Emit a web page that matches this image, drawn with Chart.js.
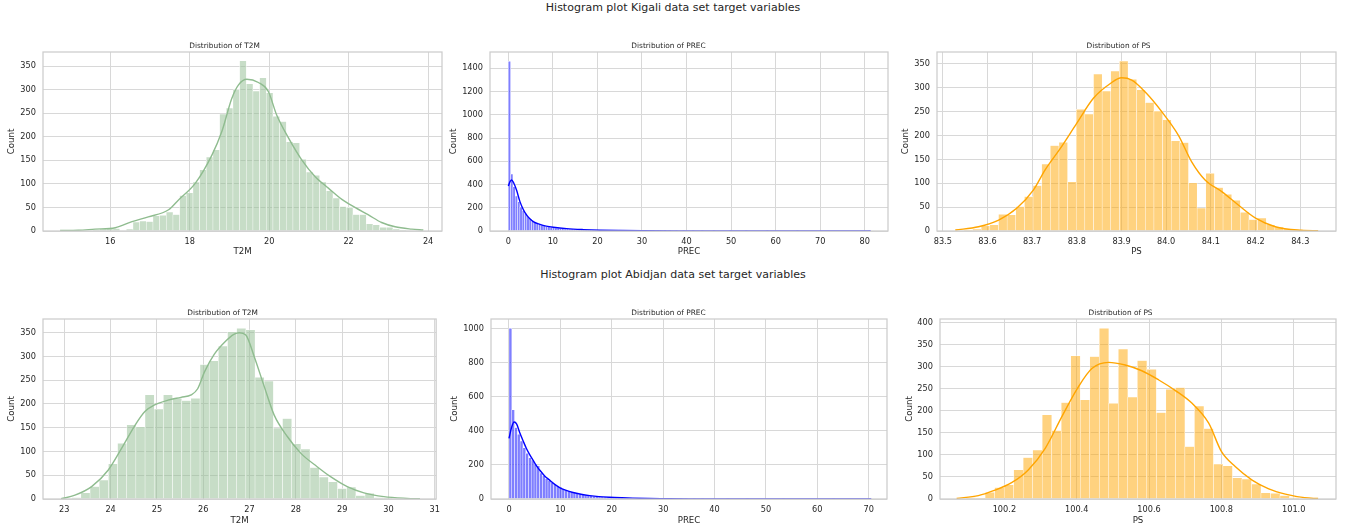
<!DOCTYPE html>
<html>
<head>
<meta charset="utf-8">
<title>Histogram plots - Kigali / Abidjan</title>
<script src="https://cdn.jsdelivr.net/npm/chart.js@4.4.1/dist/chart.umd.min.js"></script>
<style>
  html, body { margin: 0; padding: 0; background: #ffffff; }
  #fig { position: relative; width: 1346px; height: 528px; overflow: hidden; background: #ffffff;
         font-family: 'DejaVu Sans', sans-serif; color: #262626; }
  .suptitle { position: absolute; left: 0; width: 1346px; text-align: center; font-size: 11px; line-height: 14px; }
  canvas { position: absolute; }
</style>
</head>
<body>
<div id="fig">
  <div class="suptitle" style="top:1px">Histogram plot Kigali data set target variables</div>
  <div class="suptitle" style="top:268px">Histogram plot Abidjan data set target variables</div>
  <canvas id="kglT2M"></canvas>
  <canvas id="kglPREC"></canvas>
  <canvas id="kglPS"></canvas>
  <canvas id="abjT2M"></canvas>
  <canvas id="abjPREC"></canvas>
  <canvas id="abjPS"></canvas>
</div>
<script>
// ---------------- Kigali ----------------
// T2M histogram (bin start / width, counts per bin)
const kglT2MBinStart = 14.73;
const kglT2MBinWidth = 0.1677;
const kglT2MCounts = [1, 0, 1, 1, 1, 2, 4, 5, 5, 1, 4, 19, 21, 20, 32, 33, 40, 35, 75, 81,
  104, 130, 157, 172, 248, 261, 300, 361, 312, 297, 325, 293, 243, 232, 189, 187, 152, 125, 118, 104,
  85, 70, 52, 50, 35, 35, 15, 13, 8, 8, 4, 2, 1, 1, 1];
const kglT2MKdeX = [14.74, 15.2, 15.62, 16.13, 16.55, 16.96, 17.47, 17.72, 18.14, 18.56, 18.81, 19.06, 19.23,
  19.44, 19.73, 19.98, 20.19, 20.49, 20.82, 21.16, 21.49, 21.83, 22.16, 22.5, 22.83, 23.17, 23.59, 23.88];
const kglT2MKdeY = [1, 1.5, 4, 7, 20, 30, 45, 66, 101, 161, 211, 281, 310,
  322, 315, 296, 246, 197, 151, 115, 91, 67, 50, 34, 18, 9, 4, 2];
const kglT2MTicksX = [16, 18, 20, 22, 24];
const kglT2MTicksY = [0, 50, 100, 150, 200, 250, 300, 350];

// PREC histogram
const kglPRECBinStart = 0;
const kglPRECBinWidth = 0.5211;
const kglPRECCounts = [
  1460, 490, 380, 300, 250, 205, 175, 150, 125, 105,
  90, 78, 66, 57, 50, 44, 39, 35, 31, 28,
  25, 23, 21, 19, 17, 16, 15, 14, 13, 12,
  11, 10, 9, 8, 8, 7, 6, 6, 5, 5,
  4, 4, 4, 3, 3, 3, 3, 2, 2, 2,
  2, 2, 2, 1, 1, 1, 1, 1, 1, 1,
  1, 1, 1, 0, 1, 1, 0, 1, 0, 1,
  0, 0, 1, 0, 0, 1, 0, 0, 0, 1,
  0, 0, 0, 1, 0, 0, 0, 0, 1, 0,
  0, 0, 0, 0, 0, 1, 0, 0, 0, 0,
  0, 0, 1, 0, 0, 0, 0, 0, 0, 0,
  0, 1, 0, 0, 0, 0, 0, 0, 0, 0,
  0, 0, 0, 0, 1, 0, 0, 0, 0, 0,
  0, 0, 0, 0, 0, 0, 0, 0, 0, 0,
  0, 0, 0, 0, 0, 0, 0, 0, 0, 0,
  0, 0, 0, 0, 0, 1];
const kglPRECKdeX = [0, 0.4, 0.75, 1.2, 1.87, 2.6, 3.37, 4.1, 4.86, 5.6, 7.1, 8.5, 10.1, 13.1,
  16.8, 20.6, 25, 30, 40, 50, 60, 70, 81.3];
const kglPRECKdeY = [387, 425, 439, 415, 350, 255, 185, 138, 105, 80, 57, 42, 32, 20,
  12, 7, 4, 2, 1, 0.5, 0.3, 0.2, 0.1];
const kglPRECTicksX = [0, 10, 20, 30, 40, 50, 60, 70, 80];
const kglPRECTicksY = [0, 200, 400, 600, 800, 1000, 1200, 1400];

// PS histogram
const kglPSBinStart = 83.528;
const kglPSBinWidth = 0.01933;
const kglPSCounts = [1, 2, 4, 11, 13, 35, 34, 51, 72, 95, 140, 179, 186, 103, 255, 245, 329, 293, 335, 356,
  318, 296, 269, 251, 233, 189, 185, 101, 48, 121, 91, 77, 64, 39, 24, 27, 13, 8, 4, 2, 1, 1];
const kglPSKdeX = [83.528, 83.58, 83.625, 83.666, 83.703, 83.729, 83.763, 83.8, 83.837, 83.875, 83.9, 83.923,
  83.953, 83.99, 84.027, 84.057, 84.087, 84.125, 84.162, 84.2, 84.244, 84.303, 84.34];
const kglPSKdeY = [2, 9, 23, 48, 86, 128, 173, 226, 278, 309, 321, 316,
  291, 250, 201, 145, 107, 82, 54, 27, 9, 1.5, 0.5];
const kglPSTicksX = [83.5, 83.6, 83.7, 83.8, 83.9, 84.0, 84.1, 84.2, 84.3];
const kglPSTicksY = [0, 50, 100, 150, 200, 250, 300, 350];

// ---------------- Abidjan ----------------
const abjT2MBinStart = 22.963;
const abjT2MBinWidth = 0.1979;
const abjT2MCounts = [1, 3, 13, 26, 40, 74, 117, 156, 152, 219, 189, 219, 212, 207, 212, 283, 291, 322, 352, 359,
  356, 256, 248, 149, 169, 116, 105, 66, 46, 36, 22, 25, 7, 12, 3, 2, 1, 1, 1];
const abjT2MKdeX = [22.93, 23.23, 23.59, 23.95, 24.24, 24.52, 24.74, 24.95, 25.24, 25.52, 25.74, 25.88, 26.03,
  26.24, 26.45, 26.67, 26.78, 26.92, 27.1, 27.32, 27.53, 27.82, 28.11, 28.46, 28.75, 29.11, 29.47, 29.9, 30.4, 30.68];
const abjT2MKdeY = [0.5, 8, 26, 61, 107, 154, 184, 198, 208, 214, 219, 232, 268,
  305, 329, 347, 350, 345, 300, 236, 177, 131, 96, 68, 47, 26, 13, 5, 1.4, 0.5];
const abjT2MTicksX = [23, 24, 25, 26, 27, 28, 29, 30, 31];
const abjT2MTicksY = [0, 50, 100, 150, 200, 250, 300, 350];

const abjPRECBinStart = 0;
const abjPRECBinWidth = 0.5423;
const abjPRECCounts = [
  1002, 523, 420, 380, 340, 300, 268, 242, 228, 205,
  195, 152, 136, 120, 108, 95, 85, 76, 68, 60,
  53, 47, 42, 37, 33, 29, 25, 22, 20, 18,
  16, 14, 12, 11, 10, 9, 8, 7, 6, 5,
  5, 4, 4, 3, 3, 3, 2, 2, 2, 2,
  1, 1, 1, 1, 1, 1, 1, 0, 1, 1,
  0, 1, 0, 1, 0, 0, 1, 0, 0, 1,
  0, 0, 0, 1, 0, 0, 0, 0, 1, 0,
  0, 0, 0, 0, 0, 1, 0, 0, 0, 0,
  0, 0, 0, 0, 0, 0, 0, 0, 1, 0,
  0, 0, 0, 0, 0, 0, 0, 0, 0, 0,
  0, 0, 0, 0, 0, 0, 1, 0, 0, 0,
  0, 0, 0, 0, 0, 0, 0, 0, 0, 1];
const abjPRECKdeX = [0, 0.5, 1.0, 1.5, 2.08, 2.7, 3.37, 4.0, 4.67, 5.3, 5.97, 6.9, 7.9, 8.9, 9.86, 11,
  12.46, 14, 15.7, 17.5, 19.6, 22, 24.1, 27, 30.6, 35, 40, 50, 60, 70.5];
const abjPRECKdeY = [356, 420, 452, 440, 390, 345, 298, 262, 229, 197, 170, 137, 111, 86, 67, 52,
  38, 28, 20, 14, 10, 7, 5, 3, 2, 1, 0.5, 0.3, 0.2, 0.1];
const abjPRECTicksX = [0, 10, 20, 30, 40, 50, 60, 70];
const abjPRECTicksY = [0, 200, 400, 600, 800, 1000];

const abjPSBinStart = 100.068;
const abjPSBinWidth = 0.0263;
const abjPSCounts = [1, 3, 2, 15, 26, 32, 66, 94, 111, 191, 155, 219, 325, 225, 323, 387, 217, 340, 231, 314,
  294, 196, 249, 253, 119, 211, 160, 79, 75, 48, 45, 34, 14, 13, 8, 3, 1, 1];
const abjPSKdeX = [100.068, 100.128, 100.174, 100.22, 100.266, 100.313, 100.359, 100.405, 100.442, 100.488,
  100.534, 100.58, 100.627, 100.673, 100.719, 100.765, 100.8, 100.839, 100.885, 100.931, 100.977, 101.03, 101.0675];
const abjPSKdeY = [1.5, 7.6, 20, 37, 66, 115, 187, 255, 296, 310,
  304, 291, 270, 246, 217, 172, 108, 73, 43, 23, 11, 3, 1];
const abjPSTicksX = [100.2, 100.4, 100.6, 100.8, 101.0];
const abjPSTicksY = [0, 50, 100, 150, 200, 250, 300, 350, 400];

// ---------------- styling / layout ----------------
const FONT = 'DejaVu Sans';
const TEXT = '#262626';
const GRID = '#d8d8d8';
const GREEN = { line: '#8fbc8f', fill: 'rgba(143,188,143,0.5)' };
const BLUE = { line: '#0000ff', fill: 'rgba(0,0,255,0.5)' };
const ORANGE = { line: '#ffa500', fill: 'rgba(255,165,0,0.5)' };
const TITLE_BLOCK = 16;   // px from canvas top to plot top
const PAD_RIGHT = 8;

Chart.defaults.font.family = FONT;
Chart.defaults.color = TEXT;

// seaborn draws the spines on top of the bars
const frameBorder = {
  id: 'frameBorder',
  afterDatasetsDraw(chart) {
    const { ctx, chartArea: a } = chart;
    ctx.save();
    ctx.strokeStyle = '#cccccc';
    ctx.lineWidth = 1.25;
    ctx.strokeRect(a.left, a.top, a.right - a.left, a.bottom - a.top);
    ctx.restore();
  }
};

const fmtInt = v => String(v);
const fmt1 = v => v.toFixed(1);

const panels = [
  { id: 'kglT2M', title: 'Distribution of T2M', xLabel: 'T2M', colors: GREEN,
    binStart: kglT2MBinStart, binWidth: kglT2MBinWidth, counts: kglT2MCounts, kdeX: kglT2MKdeX, kdeY: kglT2MKdeY,
    xTicks: kglT2MTicksX, yTicks: kglT2MTicksY, xFmt: fmtInt,
    xMin: 14.31, xMax: 24.35, yMax: 379.7,
    plot: { left: 43, right: 442, top: 52, bottom: 231 }, canvasLeft: 7, canvasBottom: 258 },
  { id: 'kglPREC', title: 'Distribution of PREC', xLabel: 'PREC', colors: BLUE,
    binStart: kglPRECBinStart, binWidth: kglPRECBinWidth, counts: kglPRECCounts, kdeX: kglPRECKdeX, kdeY: kglPRECKdeY,
    xTicks: kglPRECTicksX, yTicks: kglPRECTicksY, xFmt: fmtInt,
    xMin: -4.1, xMax: 85.2, yMax: 1540,
    plot: { left: 490, right: 888, top: 52, bottom: 231 }, canvasLeft: 449, canvasBottom: 258 },
  { id: 'kglPS', title: 'Distribution of PS', xLabel: 'PS', colors: ORANGE,
    binStart: kglPSBinStart, binWidth: kglPSBinWidth, counts: kglPSCounts, kdeX: kglPSKdeX, kdeY: kglPSKdeY,
    xTicks: kglPSTicksX, yTicks: kglPSTicksY, xFmt: fmt1,
    xMin: 83.487, xMax: 84.38, yMax: 375,
    plot: { left: 937, right: 1336, top: 52, bottom: 231 }, canvasLeft: 901, canvasBottom: 258 },
  { id: 'abjT2M', title: 'Distribution of T2M', xLabel: 'T2M', colors: GREEN,
    binStart: abjT2MBinStart, binWidth: abjT2MBinWidth, counts: abjT2MCounts, kdeX: abjT2MKdeX, kdeY: abjT2MKdeY,
    xTicks: abjT2MTicksX, yTicks: abjT2MTicksY, xFmt: fmtInt,
    xMin: 22.54, xMax: 31.03, yMax: 378.8,
    plot: { left: 43, right: 438, top: 319, bottom: 499 }, canvasLeft: 7, canvasBottom: 527 },
  { id: 'abjPREC', title: 'Distribution of PREC', xLabel: 'PREC', colors: BLUE,
    binStart: abjPRECBinStart, binWidth: abjPRECBinWidth, counts: abjPRECCounts, kdeX: abjPRECKdeX, kdeY: abjPRECKdeY,
    xTicks: abjPRECTicksX, yTicks: abjPRECTicksY, xFmt: fmtInt,
    xMin: -3.5, xMax: 73.56, yMax: 1057,
    plot: { left: 491, right: 887, top: 319, bottom: 499 }, canvasLeft: 450, canvasBottom: 527 },
  { id: 'abjPS', title: 'Distribution of PS', xLabel: 'PS', colors: ORANGE,
    binStart: abjPSBinStart, binWidth: abjPSBinWidth, counts: abjPSCounts, kdeX: abjPSKdeX, kdeY: abjPSKdeY,
    xTicks: abjPSTicksX, yTicks: abjPSTicksY, xFmt: fmt1,
    xMin: 100.022, xMax: 101.117, yMax: 408.4,
    plot: { left: 940, right: 1336, top: 319, bottom: 499 }, canvasLeft: 905, canvasBottom: 527 },
];

function drawPanel(p) {
  const canvas = document.getElementById(p.id);
  const top = p.plot.top - TITLE_BLOCK;
  const width = p.plot.right + PAD_RIGHT - p.canvasLeft;
  const height = p.canvasBottom - top;
  canvas.style.left = p.canvasLeft + 'px';
  canvas.style.top = top + 'px';
  canvas.style.width = width + 'px';
  canvas.style.height = height + 'px';
  canvas.width = width;
  canvas.height = height;

  const yAxisWidth = p.plot.left - p.canvasLeft;
  const xAxisHeight = p.canvasBottom - p.plot.bottom;
  const titleFont = 7.4;
  const titlePadBottom = 1.5;
  const titlePadTop = TITLE_BLOCK - titlePadBottom - titleFont * 1.2;

  // bars sit on the bin centres
  const bars = p.counts.map((c, i) => ({ x: p.binStart + (i + 0.5) * p.binWidth, y: c }));
  const kde = p.kdeX.map((x, i) => ({ x: x, y: p.kdeY[i] }));

  new Chart(canvas, {
    type: 'bar',
    data: {
      datasets: [
        {
          type: 'line',
          data: kde,
          borderColor: p.colors.line,
          borderWidth: 1.4,
          pointRadius: 0,
          cubicInterpolationMode: 'monotone',
          order: 0,
        },
        {
          type: 'bar',
          data: bars,
          backgroundColor: p.colors.fill,
          borderColor: '#ffffff',
          borderWidth: { left: 0.5, right: 0.5, top: 0.5, bottom: 0 },
          barPercentage: 1,
          categoryPercentage: 1,
          order: 1,
        },
      ],
    },
    options: {
      responsive: false,
      animation: false,
      devicePixelRatio: 1,
      layout: { padding: { left: 0, right: PAD_RIGHT, top: 0, bottom: 0 } },
      plugins: {
        legend: { display: false },
        tooltip: { enabled: false },
        title: {
          display: true,
          text: p.title,
          color: TEXT,
          font: { size: titleFont, weight: 'normal' },
          padding: { top: titlePadTop, bottom: titlePadBottom },
        },
      },
      scales: {
        x: {
          type: 'linear',
          min: p.xMin,
          max: p.xMax,
          offset: false,
          grid: { offset: false, color: GRID, lineWidth: 1, drawTicks: false },
          border: { display: false },
          ticks: { padding: 6, font: { size: 8.2 }, color: TEXT, callback: p.xFmt },
          afterBuildTicks: s => { s.ticks = p.xTicks.map(v => ({ value: v })); },
          afterFit: s => { s.height = xAxisHeight; },
          title: { display: true, text: p.xLabel, color: TEXT, font: { size: 8.6 }, padding: { top: 0, bottom: 1.1 } },
        },
        y: {
          type: 'linear',
          min: 0,
          max: p.yMax,
          grid: { color: GRID, lineWidth: 1, drawTicks: false },
          border: { display: false },
          ticks: { padding: 7, font: { size: 8.2 }, color: TEXT, callback: fmtInt },
          afterBuildTicks: s => { s.ticks = p.yTicks.map(v => ({ value: v })); },
          afterFit: s => { s.width = yAxisWidth; },
          title: { display: true, text: 'Count', color: TEXT, font: { size: 8.6 }, padding: { top: 0, bottom: 0 } },
        },
      },
    },
    plugins: [frameBorder],
  });
}

panels.forEach(drawPanel);
</script>
</body>
</html>
